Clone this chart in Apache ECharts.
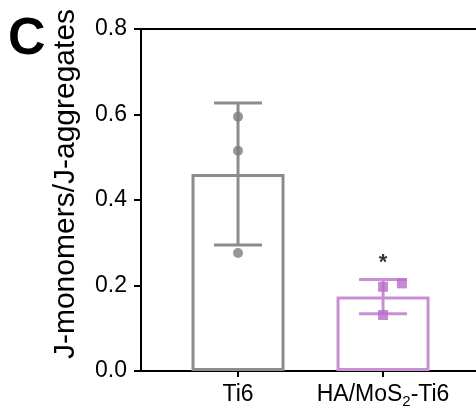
<!DOCTYPE html>
<html>
<head>
<meta charset="utf-8">
<script src="https://cdn.jsdelivr.net/npm/echarts@6/dist/echarts.min.js"></script>
<style>
  html, body { margin: 0; padding: 0; background: #fff; }
  #chart { width: 476px; height: 410px; }
</style>
</head>
<body>
<div id="chart"></div>
<script>
// groups on the x axis (placed at x = 1, 2)
var groups = ['Ti6', 'HA/MoS2-Ti6'];
var groupX = [1, 2];
var means = [0.461, 0.174];
var sds = [0.166, 0.040];
var sigMarks = ['', '*'];
// individual replicates
var ti6X = [1, 1, 1];
var ti6Y = [0.595, 0.515, 0.276];
var hamosX = [2, 2.13, 2];
var hamosY = [0.197, 0.205, 0.131];
var yTicks = [0, 0.2, 0.4, 0.6, 0.8];

var GRAY = '#8c8c8c';
var GRAY_DOT = '#7d7d7d';
var PURPLE = '#c98fd3';
var PURPLE_DOT = '#b76ec7';
var FONT = 'Liberation Sans, Arial, Helvetica, sans-serif';
var lineColors = [GRAY, PURPLE];

var chart = echarts.init(document.getElementById('chart'));

function pairs(xs, ys) {
  return xs.map(function (x, i) { return [x, ys[i]]; });
}

chart.setOption({
  animation: false,
  grid: { left: 141, top: 29, right: 0, bottom: 39 },
  graphic: [
    {
      type: 'text', left: 8, top: 14,
      style: { text: 'C', font: 'bold 52px ' + FONT, fill: '#000' }
    },
    {
      type: 'text', x: 66, y: 184, rotation: Math.PI / 2,
      style: {
        text: 'J-monomers/J-aggregates', font: '30px ' + FONT, fill: '#000',
        align: 'center', verticalAlign: 'middle'
      }
    }
  ],
  xAxis: [
    {
      type: 'value', min: 0.331, max: 2.641,
      axisLine: { show: true, onZero: false, lineStyle: { color: '#000', width: 2 } },
      axisTick: { show: true, customValues: groupX, length: 6, lineStyle: { color: '#000', width: 2 } },
      axisLabel: {
        customValues: groupX, margin: 10, color: '#000', fontFamily: FONT, fontSize: 23,
        formatter: function (v) {
          var name = groups[groupX.indexOf(v)] || '';
          if (name === 'HA/MoS2-Ti6') return '{n|HA/MoS}{s|2}{n|-Ti6}';
          return '{n|' + name + '}';
        },
        rich: {
          n: { fontSize: 23, fontFamily: FONT, color: '#000', lineHeight: 28 },
          s: { fontSize: 15, fontFamily: FONT, color: '#000', lineHeight: 28, verticalAlign: 'bottom' }
        }
      },
      splitLine: { show: false }
    },
    {
      type: 'value', position: 'top', min: 0.331, max: 2.641,
      axisLine: { show: true, onZero: false, lineStyle: { color: '#000', width: 2 } },
      axisTick: { show: false }, axisLabel: { show: false }, splitLine: { show: false }
    }
  ],
  yAxis: {
    type: 'value', min: 0, max: 0.8, interval: 0.2,
    axisLine: { show: true, lineStyle: { color: '#000', width: 2 } },
    axisTick: { show: true, length: 7, lineStyle: { color: '#000', width: 2 } },
    axisLabel: {
      margin: 14, color: '#000', fontFamily: FONT, fontSize: 23,
      customValues: yTicks,
      formatter: function (v) { return v.toFixed(1); }
    },
    splitLine: { show: false }
  },
  series: [
    {
      type: 'bar',
      barWidth: 93,
      data: groupX.map(function (x, i) {
        return {
          value: [x, means[i]],
          itemStyle: { color: 'rgba(0,0,0,0)', borderColor: lineColors[i], borderWidth: 3 }
        };
      }),
      z: 2
    },
    {
      type: 'custom',
      data: groupX.map(function (x, i) { return [x, means[i], sds[i], i]; }),
      renderItem: function (params, api) {
        var x = api.value(0), m = api.value(1), sd = api.value(2);
        var col = lineColors[api.value(3)];
        var top = api.coord([x, m + sd]);
        var bot = api.coord([x, m - sd]);
        var half = 24;
        var style = { stroke: col, lineWidth: 3 };
        return {
          type: 'group',
          children: [
            { type: 'line', shape: { x1: top[0], y1: top[1], x2: bot[0], y2: bot[1] }, style: style },
            { type: 'line', shape: { x1: top[0] - half, y1: top[1], x2: top[0] + half, y2: top[1] }, style: style },
            { type: 'line', shape: { x1: bot[0] - half, y1: bot[1], x2: bot[0] + half, y2: bot[1] }, style: style }
          ]
        };
      },
      z: 3
    },
    {
      type: 'scatter',
      symbol: 'circle', symbolSize: 10,
      itemStyle: { color: GRAY_DOT },
      data: pairs(ti6X, ti6Y),
      z: 4
    },
    {
      type: 'scatter',
      symbol: 'rect', symbolSize: 10,
      itemStyle: { color: PURPLE_DOT },
      data: pairs(hamosX, hamosY),
      z: 4
    },
    {
      type: 'scatter',
      symbolSize: 0,
      data: groupX.map(function (x, i) { return [x, means[i] + sds[i]]; }),
      label: {
        show: true, position: 'top', distance: 6,
        color: '#000', fontFamily: FONT, fontSize: 22, fontWeight: 'bold',
        formatter: function (p) { return sigMarks[p.dataIndex]; }
      },
      z: 5
    }
  ]
});
</script>
</body>
</html>
